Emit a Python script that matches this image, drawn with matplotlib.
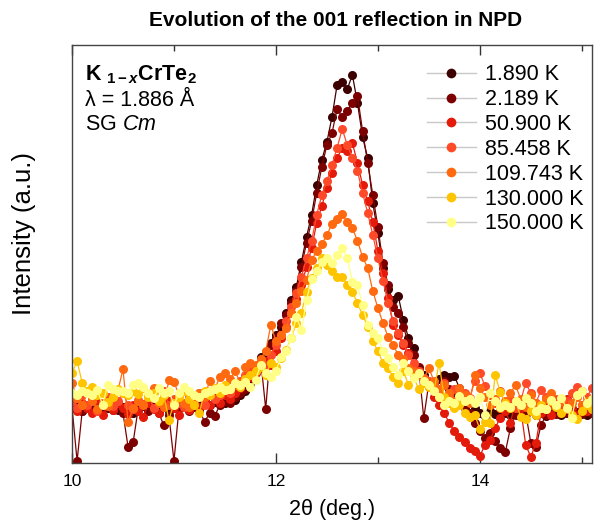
import numpy as np
import matplotlib
matplotlib.use("Agg")
import matplotlib.pyplot as plt
from matplotlib.lines import Line2D

plt.rcParams['font.family'] = ['Liberation Sans', 'DejaVu Sans']
plt.rcParams['mathtext.fontset'] = 'custom'
plt.rcParams['mathtext.rm'] = 'Liberation Sans'
plt.rcParams['mathtext.it'] = 'Liberation Sans:italic'
plt.rcParams['mathtext.bf'] = 'Liberation Sans:bold'
plt.rcParams['mathtext.bfit'] = 'Liberation Sans:bold:italic'

# 2theta grid (deg.)
two_theta = np.round(np.arange(10.0, 15.1001, 0.05), 3)

labels = ["1.890 K", "2.189 K", "50.900 K", "85.458 K", "109.743 K", "130.000 K", "150.000 K"]
colors = ["#3d0000", "#7d0000", "#e41a0a", "#ff4a2a", "#ff6a10", "#ffc400", "#ffff88"]

# intensities (arbitrary units)
I_1p890 = [55, 57, 52, 58, 56, 54, 59, 55, 57, 53, 56, 52, 50, 55, 57, 53, 58, 54, 56, 52,
           55, 58, 56, 60, 57, 59, 62, 58, 61, 64, 60, 66, 63, 68, 72, 78,
           91, 106, 111, 120, 128, 136, 150, 163, 176, 201, 226, 248, 278, 303, 321, 346, 378, 381, 374, 388,
           360, 326, 305, 260, 230, 195, 174, 163, 167, 143, 125, 115, 93, 88, 78,
           78, 84, 88, 86, 87, 75, 68, 62, 55, 50, 47, 52, 49, 46, 50, 48, 51, 47, 49, 52,
           48, 50, 47, 49, 51, 48, 50, 52, 49, 51, 48, 50]
I_2p189 = [56, 2, 52, 58, 55, 60, 54, 57, 53, 58, 50, 16, 21, 55, 58, 52, 56, 50, 38, 48,
           2, 55, 58, 52, 56, 53, 41, 50, 47, 58, 62, 60, 66, 70, 74, 82,
           95, 104, 54, 118, 125, 140, 148, 160, 172, 196, 220, 242, 270, 296, 318, 330, 354, 346, 352, 360,
           367, 332, 300, 268, 236, 200, 178, 156, 150, 136, 120, 108, 96, 45, 80,
           78, 72, 82, 74, 68, 60, 55, 50, 40, 32, 25, 30, 22, 15, 11, 35, 48, 52, 50, 20,
           16, 38, 48, 52, 49, 53, 50, 54, 51, 49, 52, 50]
I_50p900 = [58, 52, 60, 55, 50, 62, 48, 57, 53, 60, 55, 49, 58, 52, 46, 60, 54, 50, 57, 62,
            55, 48, 58, 53, 60, 56, 63, 58, 65, 60, 68, 64, 70, 75, 80, 86,
            90, 95, 102, 98, 112, 125, 136, 150, 164, 178, 196, 215, 240, 257, 275, 290, 305, 315, 312, 320,
            300, 278, 262, 241, 212, 190, 165, 138, 128, 118, 110, 98, 88, 80, 76,
            66, 58, 50, 40, 32, 26, 21, 15, 12, 7, 18, 23, 35, 45, 52, 40, 62, 55, 18, 6,
            20, 50, 56, 48, 60, 52, 64, 55, 48, 58, 52, 60]
I_85p458 = [62, 55, 68, 58, 64, 52, 60, 66, 57, 62, 70, 58, 54, 63, 59, 67, 55, 61, 72, 58,
            64, 60, 56, 66, 62, 70, 58, 72, 64, 68, 75, 70, 78, 82, 88, 92,
            96, 102, 98, 108, 118, 128, 142, 156, 170, 186, 205, 222, 248, 268, 282, 298, 315, 334, 318, 305,
            292, 270, 250, 228, 205, 182, 160, 142, 130, 120, 108, 100, 92, 85, 82,
            78, 72, 80, 68, 74, 62, 70, 65, 82, 90, 77, 68, 60, 72, 58, 64, 55, 62, 80, 70,
            60, 73, 66, 58, 64, 55, 62, 70, 76, 72, 66, 75]
I_109p743 = [80, 65, 58, 70, 62, 54, 60, 57, 66, 72, 94, 41, 55, 62, 58, 66, 75, 60, 56, 83,
             81, 68, 60, 56, 64, 70, 66, 82, 74, 86, 90, 84, 92, 80, 96, 100,
             98, 104, 112, 138, 122, 128, 135, 150, 160, 172, 183, 203, 212, 219, 228, 239, 244, 249, 241, 235,
             222, 206, 195, 172, 155, 140, 126, 118, 108, 104, 95, 92, 88, 84, 95,
             82, 74, 78, 70, 62, 75, 68, 60, 88, 75, 66, 58, 64, 55, 62, 70, 78, 64, 56, 68,
             60, 55, 64, 70, 58, 62, 54, 60, 66, 58, 62, 56]
I_130p000 = [90, 102, 80, 72, 76, 68, 70, 61, 66, 74, 70, 68, 72, 69, 75, 66, 70, 62, 68, 43,
             60, 66, 72, 64, 58, 50, 72, 68, 75, 70, 78, 74, 80, 76, 84, 88,
             92, 96, 88, 100, 96, 105, 113, 125, 140, 150, 171, 185, 195, 205, 198, 192, 186, 186, 178, 171,
             160, 148, 136, 122, 112, 100, 95, 86, 80, 92, 78, 86, 74, 80, 76,
             72, 100, 66, 60, 55, 58, 50, 46, 48, 34, 41, 40, 88, 71, 60, 55, 62, 46, 44, 52,
             48, 58, 54, 62, 56, 50, 55, 48, 44, 52, 58, 54]
I_150p000 = [70, 68, 72, 70, 68, 73, 58, 78, 74, 72, 72, 70, 78, 80, 76, 70, 65, 75, 70, 72,
             58, 70, 76, 72, 68, 66, 70, 72, 74, 76, 73, 74, 80, 78, 81, 76,
             83, 98, 90, 86, 92, 106, 112, 125, 146, 133, 163, 184, 192, 201, 205, 200, 208, 215, 205, 181,
             178, 158, 138, 130, 125, 112, 105, 96, 88, 100, 92, 85, 90, 82, 78,
             72, 66, 58, 62, 60, 67, 62, 64, 60, 66, 48, 70, 62, 56, 58, 56, 62, 58, 65, 60,
             52, 55, 54, 63, 58, 65, 55, 45, 68, 72, 60, 64]

series = [I_1p890, I_2p189, I_50p900, I_85p458, I_109p743, I_130p000, I_150p000]

fig = plt.figure(figsize=(5.95, 5.23), dpi=100)
ax = fig.add_axes([72/595, 60/523, 520/595, 418/523])

for yv, c in zip(series, colors):
    ax.plot(two_theta, yv, '-', color=c, lw=0.9, marker='o', ms=6.5, mfc=c, mec=c, mew=0)

ax.set_xlim(10, 15.1)
ax.set_ylim(0, 418)
ax.set_xticks([10, 12, 14])
ax.set_xticks([11, 13, 15], minor=True)
ax.set_yticks([])
ax.tick_params(axis='x', which='major', direction='in', length=7, width=1, top=True,
               labelsize=12.5, pad=8, color='#333333')
ax.tick_params(axis='x', which='minor', direction='in', length=4, width=1, top=True, color='#333333')
for s in ax.spines.values():
    s.set_color('#444444')
    s.set_linewidth(1.0)

ax.set_xlabel("2θ (deg.)", fontsize=15.5, labelpad=7)
ax.set_ylabel("Intensity (a.u.)", fontsize=18.5)
ax.yaxis.set_label_coords(-0.07, 0.55)
ax.set_title("Evolution of the 001 reflection in NPD", fontsize=15, fontweight='bold', pad=14,
             x=0.507)

ax.text(0.025, 0.955, r"$\mathbf{K}\ _{\mathbf{1-}\mathbfit{x}}\mathbf{CrTe}_{\mathbf{2}}$",
        transform=ax.transAxes, fontsize=15.5, va='top', ha='left')
ax.text(0.025, 0.893, "λ = 1.886 Å", transform=ax.transAxes, fontsize=15.5, va='top', ha='left')
ax.text(0.025, 0.834, r"SG $\mathit{Cm}$", transform=ax.transAxes, fontsize=15.5, va='top', ha='left')

handles = [Line2D([0], [0], color='#c8c8c8', lw=1, marker='o', mfc=c, mec=c, mew=0, ms=7)
           for c in colors]
ax.legend(handles, labels, loc='upper right', bbox_to_anchor=(1.008, 0.985), frameon=False,
          fontsize=15.5, handlelength=2.3, handletextpad=0.4, labelspacing=0.18, borderaxespad=0.2)

fig.savefig("out.png", dpi=100)
